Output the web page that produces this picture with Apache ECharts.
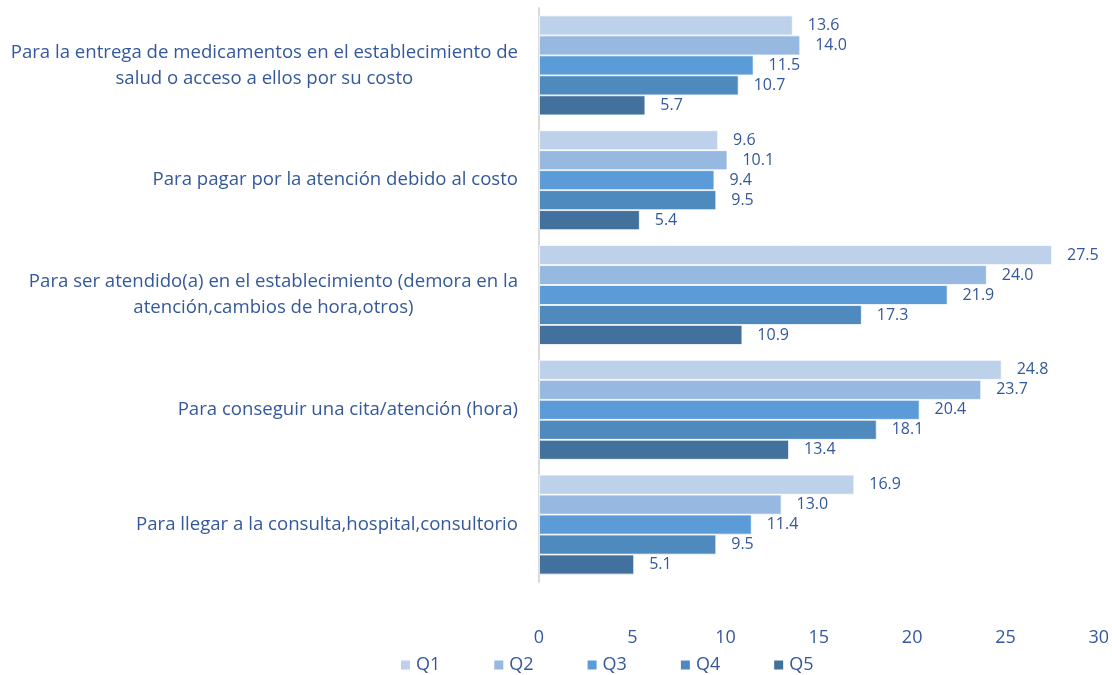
<!DOCTYPE html>
<html>
<head>
<meta charset="utf-8">
<style>
  html, body { margin: 0; padding: 0; background: #fff; }
  #chart { width: 1112px; height: 675px; }
</style>
<script src="https://cdn.jsdelivr.net/npm/echarts@6/dist/echarts.min.js"></script>
</head>
<body>
<div id="chart"></div>
<script>
const categories = [
  "Para la entrega de medicamentos en el establecimiento de\nsalud o acceso a ellos por su costo",
  "Para pagar por la atención debido al costo",
  "Para ser atendido(a) en el establecimiento (demora en la\natención,cambios de hora,otros)",
  "Para conseguir una cita/atención (hora)",
  "Para llegar a la consulta,hospital,consultorio"
];
const seriesNames = ["Q1", "Q2", "Q3", "Q4", "Q5"];
const q1 = [13.6, 9.6, 27.5, 24.8, 16.9];
const q2 = [14.0, 10.1, 24.0, 23.7, 13.0];
const q3 = [11.5, 9.4, 21.9, 20.4, 11.4];
const q4 = [10.7, 9.5, 17.3, 18.1, 9.5];
const q5 = [5.7, 5.4, 10.9, 13.4, 5.1];
const xTicks = [0, 5, 10, 15, 20, 25, 30];

const values = [q1, q2, q3, q4, q5];
const colors = ["#BDD1EB", "#97B8E0", "#5A9BD8", "#4E8ABE", "#41719C"];
const textColor = "#34589C";
const font = "Open Sans";

const chart = echarts.init(document.getElementById("chart"));

const series = seriesNames.map(function (name, i) {
  return {
    name: name,
    type: "bar",
    data: values[i],
    barGap: "0%",
    barCategoryGap: "13%",
    itemStyle: { color: colors[i], borderColor: "#fff", borderWidth: 0.8 },
    label: {
      show: true,
      position: "right",
      distance: 15,
      color: textColor,
      fontFamily: font,
      fontSize: 16,
      formatter: function (p) { return p.value.toFixed(1); }
    }
  };
});

chart.setOption({
  animation: false,
  color: colors,
  grid: { left: 539, right: 13, top: 8, bottom: 93 },
  legend: {
    data: seriesNames,
    left: 394,
    top: 651,
    icon: "rect",
    itemWidth: 11,
    itemHeight: 11,
    itemGap: 52,
    textStyle: { color: textColor, fontFamily: font, fontSize: 18 }
  },
  xAxis: {
    type: "value",
    min: xTicks[0],
    max: xTicks[xTicks.length - 1],
    interval: 5,
    axisLine: { show: false },
    axisTick: { show: false },
    splitLine: { show: false },
    axisLabel: {
      color: textColor,
      fontFamily: font,
      fontSize: 18,
      margin: 47
    }
  },
  yAxis: {
    type: "category",
    data: categories,
    inverse: true,
    axisTick: { show: false },
    axisLine: { show: true, lineStyle: { color: "#D9D9D9", width: 2 } },
    axisLabel: {
      color: textColor,
      fontFamily: font,
      fontSize: 18.6,
      margin: 21,
      lineHeight: 26,
      formatter: function (v) {
        return v.split("\n").map(function (s) { return "{c|" + s + "}"; }).join("\n");
      },
      rich: {
        c: { align: "center", color: textColor, fontFamily: font, fontSize: 18.6, lineHeight: 26 }
      }
    }
  },
  series: series
});
</script>
</body>
</html>
